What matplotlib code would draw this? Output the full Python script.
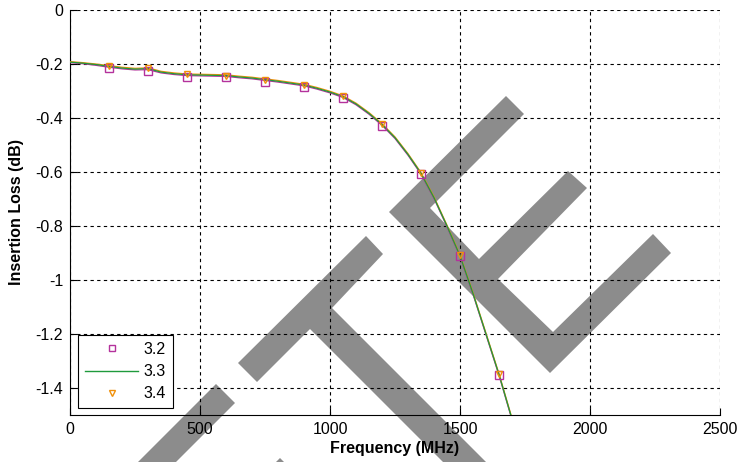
import numpy as np
import matplotlib
matplotlib.use("Agg")
import matplotlib.pyplot as plt
from matplotlib.lines import Line2D
from matplotlib.patches import Polygon

plt.rcParams['font.family'] = ['Liberation Sans', 'DejaVu Sans']
plt.rcParams['axes.unicode_minus'] = False

# == Data ==
freq = np.arange(0, 1751, 50)

loss_32 = [-0.195, -0.199, -0.205, -0.212, -0.218, -0.222, -0.221, -0.233, -0.239, -0.243,
           -0.244, -0.245, -0.246, -0.251, -0.255, -0.261, -0.267, -0.274, -0.281, -0.293,
           -0.307, -0.324, -0.351, -0.386, -0.427, -0.476, -0.538, -0.608, -0.698, -0.803,
           -0.913, -1.053, -1.203, -1.353, -1.518, -1.690]
loss_33 = [-0.193, -0.197, -0.202, -0.209, -0.215, -0.219, -0.217, -0.230, -0.236, -0.240,
           -0.241, -0.242, -0.243, -0.248, -0.252, -0.258, -0.264, -0.271, -0.278, -0.290,
           -0.304, -0.321, -0.348, -0.383, -0.424, -0.473, -0.535, -0.605, -0.695, -0.800,
           -0.910, -1.050, -1.200, -1.350, -1.515, -1.690]
loss_34 = [-0.191, -0.195, -0.200, -0.206, -0.212, -0.216, -0.214, -0.227, -0.233, -0.237,
           -0.238, -0.239, -0.240, -0.245, -0.249, -0.255, -0.261, -0.268, -0.275, -0.287,
           -0.301, -0.318, -0.345, -0.380, -0.421, -0.470, -0.532, -0.602, -0.692, -0.797,
           -0.907, -1.047, -1.197, -1.347, -1.512, -1.690]

# marker points (every 150 MHz)
mark_freq = [150, 300, 450, 600, 750, 900, 1050, 1200, 1350, 1500, 1650]
mark_32 = [-0.215, -0.225, -0.247, -0.250, -0.265, -0.285, -0.327, -0.428, -0.607, -0.911, -1.352]
mark_34 = [-0.207, -0.215, -0.238, -0.245, -0.260, -0.277, -0.320, -0.422, -0.603, -0.908, -1.350]

x_ticks = [0, 500, 1000, 1500, 2000, 2500]
y_ticks = [0, -0.2, -0.4, -0.6, -0.8, -1, -1.2, -1.4]
y_tick_labels = ["0", "-0.2", "-0.4", "-0.6", "-0.8", "-1", "-1.2", "-1.4"]

c32 = "#b4329c"
c33 = "#1f9a3c"
c34 = "#f0900a"

W, H = 739, 462
fig = plt.figure(figsize=(W / 100, H / 100), dpi=100)
ax = fig.add_axes([70 / W, 1 - 415 / H, 650 / W, 405 / H])
ax.patch.set_facecolor("none")

# Grey watermark (pixel outlines), drawn behind the axes
watermark = [
    # T bar and stem
    [(238, 363), (366, 236), (383, 254), (332, 308), (532, 508), (510, 529), (310, 329), (257, 382)],
    # E
    [(389, 212), (506, 96), (524, 114), (430, 208), (479, 259), (568, 171), (587, 188),
     (498, 279), (553, 332), (653, 234), (671, 253), (550, 373)],
    # piece at lower left
    [(216, 384), (235, 403), (85, 553), (66, 534)],
    # tiny tip at the bottom edge
    [(275, 463), (280, 458), (285, 463)],
]
for poly in watermark:
    pts = [(px / W, 1 - py / H) for px, py in poly]
    fig.patches.append(Polygon(pts, closed=True, transform=fig.transFigure,
                               facecolor="#8c8c8c", edgecolor="none", zorder=-5))

# Curves
ax.plot(freq, loss_32, color=c32, lw=0.9, zorder=3)
ax.plot(freq, loss_34, color=c34, lw=0.9, zorder=3)
ax.plot(freq, loss_33, color=c33, lw=0.9, zorder=4)
ax.plot(mark_freq, mark_32, ls="none", marker="s", ms=5.5, mfc="none", mec=c32, mew=1, zorder=5)
ax.plot(mark_freq, mark_34, ls="none", marker="v", ms=5, mfc="none", mec=c34, mew=1, zorder=5)

ax.set_xlim(0, 2500)
ax.set_ylim(-1.5, 0)
ax.set_xticks(x_ticks)
ax.set_yticks(y_ticks)
ax.set_yticklabels(y_tick_labels)
ax.tick_params(direction="in", length=5, width=0.8, labelsize=11.5, pad=5,
               top=False, right=False)
ax.spines["top"].set_visible(False)
ax.spines["right"].set_visible(False)
ax.grid(True, color="black", linestyle=(0, (3, 3)), linewidth=0.8)

ax.set_xlabel("Frequency (MHz)", fontweight="bold", fontsize=11.5, labelpad=3)
ax.set_ylabel("Insertion Loss (dB)", fontweight="bold", fontsize=11.5, labelpad=8)

# Legend
handles = [
    Line2D([], [], ls="none", marker="s", ms=5, mfc="none", mec=c32, mew=1),
    Line2D([], [], color=c33, lw=1),
    Line2D([], [], ls="none", marker="v", ms=4.5, mfc="none", mec=c34, mew=1),
]
leg = ax.legend(handles, ["3.2", "3.3", "3.4"], loc="lower left",
                bbox_to_anchor=(0.013, 0.017), borderaxespad=0, fontsize=11.5,
                fancybox=False, framealpha=1, edgecolor="black",
                handlelength=3.3, handletextpad=0.35, labelspacing=0.45,
                borderpad=0.42)
leg.get_frame().set_linewidth(0.8)

fig.savefig("out.png", dpi=100)
